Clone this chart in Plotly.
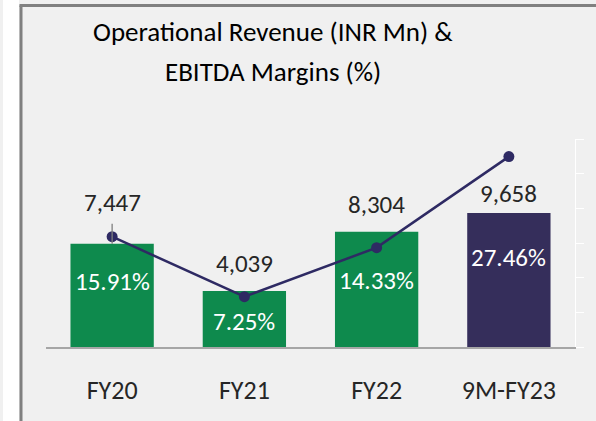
import plotly.graph_objects as go

# ── Data ──────────────────────────────────────────────────────────────────────
periods = ["FY20", "FY21", "FY22", "9M-FY23"]
revenue_mn = [7447, 4039, 8304, 9658]
ebitda_margin = [15.91, 7.25, 14.33, 27.46]

# ── Colours ───────────────────────────────────────────────────────────────────
GREEN = "#0E8A4D"
NAVY_BAR = "#352E5B"
NAVY_LINE = "#2E2A63"
PANEL_BG = "#F0F0F0"
BORDER = "#808080"
TEXT = "#262626"
FONT = "Carlito, Calibri, Lato, sans-serif"

W, H = 596, 421
L, R, T, B = 46, 21, 139, 74  # plot area: x 46..575, y 139..347
PW, PH = W - L - R, H - T - B


def px_x(px):
    return (px - L) / PW


def px_y(py):
    return (H - B - py) / PH


# label placement (layout only)
value_shift = [41, 27, 27, 20]          # px above bar top
pct_frac = [0.63, 0.46, 0.58, 0.67]     # fraction of bar height
bar_colors = [GREEN, GREEN, GREEN, NAVY_BAR]

fig = go.Figure()

fig.add_trace(go.Bar(
    x=periods, y=revenue_mn,
    marker=dict(color=bar_colors, line=dict(width=0)),
    width=0.63,
    name="Operational Revenue",
    showlegend=False,
))

fig.add_trace(go.Scatter(
    x=periods, y=ebitda_margin,
    yaxis="y2",
    mode="lines+markers",
    line=dict(color=NAVY_LINE, width=2.5),
    marker=dict(color=NAVY_LINE, size=11),
    name="EBITDA Margin",
    showlegend=False,
))

annotations = []
for i, (p, v, m) in enumerate(zip(periods, revenue_mn, ebitda_margin)):
    if i == 0:
        # label pulled up with a leader line
        annotations.append(dict(
            x=p, y=v, xref="x", yref="y", text=f"{v:,}",
            showarrow=True, arrowhead=0, arrowwidth=1.3, arrowcolor="#7F7F7F",
            ax=0, ay=-value_shift[i], startstandoff=4,
            font=dict(family=FONT, size=25, color=TEXT),
        ))
    else:
        annotations.append(dict(
            x=p, y=v, xref="x", yref="y", text=f"{v:,}", showarrow=False,
            yshift=value_shift[i],
            font=dict(family=FONT, size=25, color=TEXT),
        ))
    annotations.append(dict(
        x=p, y=v * pct_frac[i], xref="x", yref="y", text=f"{m:.2f}%",
        showarrow=False, font=dict(family=FONT, size=25, color="white"),
    ))

# title (two lines)
for line, py in [("Operational Revenue (INR Mn) &", 31), ("EBITDA Margins (%)", 71.5)]:
    annotations.append(dict(
        x=px_x(272.5), y=px_y(py), xref="paper", yref="paper",
        xanchor="center", yanchor="middle", text=line, showarrow=False,
        font=dict(family=FONT, size=27, color="#000000"),
    ))

shapes = [
    # white strip on the far left
    dict(type="rect", xref="paper", yref="paper",
         x0=px_x(3), x1=px_x(19), y0=px_y(H + 5), y1=px_y(-5),
         fillcolor="white", line=dict(width=0), layer="below"),
    # panel border (left + top)
    dict(type="line", xref="paper", yref="paper",
         x0=px_x(21), x1=px_x(21), y0=px_y(H + 5), y1=px_y(5.5),
         line=dict(color=BORDER, width=3)),
    dict(type="line", xref="paper", yref="paper",
         x0=px_x(19.5), x1=px_x(W + 5), y0=px_y(5.5), y1=px_y(5.5),
         line=dict(color=BORDER, width=3)),
]

fig.update_layout(
    width=W, height=H,
    margin=dict(l=L, r=R, t=T, b=B, autoexpand=False),
    paper_bgcolor=PANEL_BG,
    plot_bgcolor=PANEL_BG,
    font=dict(family=FONT, size=25, color=TEXT),
    bargap=0.37,
    annotations=annotations,
    shapes=shapes,
    xaxis=dict(
        showline=True, linecolor="#A6A6A6", linewidth=2,
        showgrid=False, zeroline=False, ticks="",
        ticklabelstandoff=19,
        tickfont=dict(family=FONT, size=26, color=TEXT),
    ),
    yaxis=dict(range=[0, 15000], visible=False, showgrid=False),
    yaxis2=dict(
        range=[0, 30], dtick=5, overlaying="y", side="right",
        showgrid=False, zeroline=False, showticklabels=False,
        showline=True, linecolor="white", linewidth=1,
        ticks="outside", ticklen=8, tickcolor="white", tickwidth=1,
    ),
)

fig.write_html(
    "out.html",
    config={"displayModeBar": False},
    post_script="document.body.style.margin='0';",
)
